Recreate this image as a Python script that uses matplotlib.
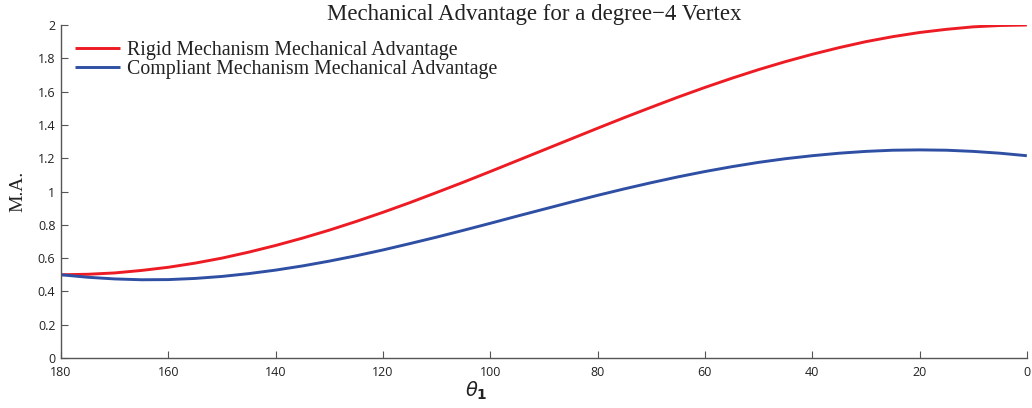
import matplotlib
matplotlib.use("Agg")
import matplotlib.pyplot as plt

theta = [180, 175, 170, 165, 160, 155, 150, 145, 140, 135, 130, 125, 120, 115, 110,
         105, 100, 95, 90, 85, 80, 75, 70, 65, 60, 55, 50, 45, 40, 35, 30, 25, 20,
         15, 10, 5, 0]
rigid = [0.500, 0.503, 0.511, 0.526, 0.545, 0.570, 0.600, 0.636, 0.676, 0.720, 0.768,
         0.820, 0.875, 0.933, 0.994, 1.056, 1.120, 1.185, 1.250, 1.315, 1.380, 1.444,
         1.506, 1.567, 1.625, 1.680, 1.732, 1.780, 1.824, 1.864, 1.900, 1.930, 1.955,
         1.974, 1.989, 1.997, 2.000]
compliant = [0.500, 0.485, 0.475, 0.470, 0.471, 0.478, 0.490, 0.507, 0.528, 0.553,
             0.582, 0.614, 0.649, 0.687, 0.726, 0.767, 0.809, 0.852, 0.894, 0.936,
             0.977, 1.016, 1.053, 1.088, 1.120, 1.149, 1.175, 1.197, 1.215, 1.230,
             1.241, 1.248, 1.250, 1.248, 1.241, 1.230, 1.215]
xticks = [180, 160, 140, 120, 100, 80, 60, 40, 20, 0]
yticks = [0, 0.2, 0.4, 0.6, 0.8, 1.0, 1.2, 1.4, 1.6, 1.8, 2.0]
ytick_labels = ["0", "0.2", "0.4", "0.6", "0.8", "1", "1.2", "1.4", "1.6", "1.8", "2"]

plt.rcParams['mathtext.fontset'] = 'dejavusans'

fig = plt.figure(figsize=(10.32, 4.08), dpi=100)
ax = fig.add_axes([0.0591, 0.1225, 0.9359, 0.8162])

ax.plot(theta, rigid, color='#ED1C24', lw=2.1, label='Rigid Mechanism Mechanical Advantage',
        solid_capstyle='butt')
ax.plot(theta, compliant, color='#2E4FA3', lw=2.1, label='Compliant Mechanism Mechanical Advantage',
        solid_capstyle='butt')

ax.set_xlim(180, 0)
ax.set_ylim(0, 2)
ax.set_xticks(xticks)
ax.set_xticklabels([str(t) for t in xticks], family='Open Sans', fontsize=9, color='#222222')
ax.set_yticks(yticks)
ax.set_yticklabels(ytick_labels, family='Open Sans', fontsize=9, color='#222222')

for s in ['top', 'right']:
    ax.spines[s].set_visible(False)
for s in ['left', 'bottom']:
    ax.spines[s].set_color('#555555')
    ax.spines[s].set_linewidth(1.0)
ax.tick_params(direction='in', length=5, width=0.8, color='#555555')
ax.tick_params(axis='x', pad=6)
ax.tick_params(axis='y', pad=4)

ax.set_title('Mechanical Advantage for a degree\u22124 Vertex', family='Liberation Serif',
             fontsize=16.5, color='#222222', pad=1.5, x=0.49)
ax.set_ylabel('M.A.', family='Liberation Serif', fontsize=14, color='#222222', labelpad=8)
ax.set_xlabel(r'$\theta_\mathbf{1}$', fontsize=14, color='#222222')
ax.xaxis.set_label_coords(0.43, -0.065)

leg = ax.legend(loc='upper left', frameon=False, prop={'family': 'Liberation Serif', 'size': 14.3},
                handlelength=2.3, handletextpad=0.35, labelspacing=-0.02,
                borderaxespad=0.0, bbox_to_anchor=(0.006, 0.975))
for t in leg.get_texts():
    t.set_color('#222222')

fig.savefig('out.png', dpi=100)
